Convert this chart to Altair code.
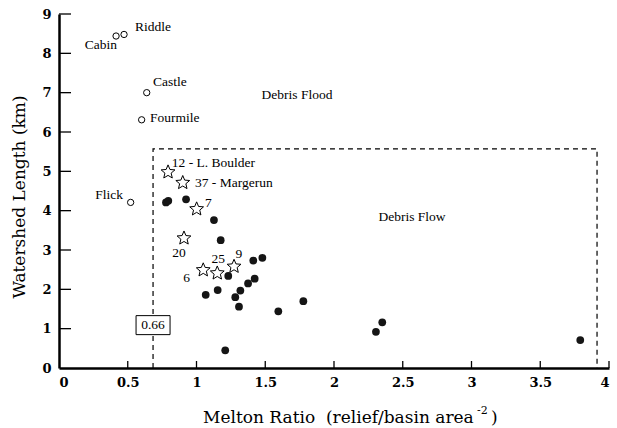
import altair as alt
import pandas as pd

FONT = "Liberation Serif, Times New Roman, DejaVu Serif, serif"
BIG_FONT = "DejaVu Serif, serif"

# Debris-flood basins (open circles)
flood_names = ["Cabin", "Riddle", "Castle", "Fourmile", "Flick"]
flood_x = [0.415, 0.473, 0.638, 0.601, 0.521]
flood_y = [8.44, 8.48, 7.00, 6.31, 4.21]
# label anchors (data coords)
flood_lab_x = [0.422, 0.553, 0.684, 0.662, 0.465]
flood_lab_y = [8.21, 8.67, 7.27, 6.36, 4.40]
flood_lab_side = ["right", "left", "left", "left", "right"]

# Debris-flow basins (filled circles)
flow_x = [0.778, 0.795, 0.924, 1.127, 1.176, 1.413, 1.479, 1.231, 1.423, 1.375,
          1.319, 1.282, 1.067, 1.154, 1.309, 1.595, 1.777, 1.209, 2.351, 2.305, 3.791]
flow_y = [4.21, 4.25, 4.29, 3.76, 3.25, 2.73, 2.80, 2.34, 2.27, 2.15,
          1.97, 1.80, 1.86, 1.98, 1.56, 1.44, 1.70, 0.45, 1.16, 0.92, 0.71]

# Study basins (stars)
star_names = ["12 - L. Boulder", "37 - Margerun", "7", "20", "6", "25", "9"]
star_x = [0.793, 0.900, 1.001, 0.909, 1.049, 1.151, 1.273]
star_y = [4.98, 4.71, 4.04, 3.30, 2.49, 2.41, 2.58]
star_lab_x = [0.82, 0.989, 1.062, 0.873, 0.929, 1.159, 1.309]
star_lab_y = [5.20, 4.70, 4.20, 2.93, 2.30, 2.77, 2.89]
star_lab_side = ["left", "left", "left", "center", "center", "center", "center"]

# Threshold box
box_x = [0.684, 0.684, 3.913, 3.913]
box_y = [0.0, 5.57, 5.57, 0.0]
threshold_value = 0.684
threshold_label = "0.66"
threshold_label_y = 1.09

region_labels = ["Debris Flood", "Debris Flow"]
region_x = [1.731, 2.567]
region_y = [6.94, 3.84]

x_ticks = [0.5, 1, 1.5, 2, 2.5, 3, 3.5, 4]
y_ticks = [1, 2, 3, 4, 5, 6, 7, 8, 9]
x_labels = [0, 0.5, 1, 1.5, 2, 2.5, 3, 3.5, 4]
y_labels = [0, 1, 2, 3, 4, 5, 6, 7, 8, 9]

W, H = 550, 354

STAR = ("M0,-1L0.2645,-0.3641L0.9511,-0.309L0.428,0.1391L0.5878,0.809L0,0.45"
        "L-0.5878,0.809L-0.428,0.1391L-0.9511,-0.309L-0.2645,-0.3641Z")

xs = alt.Scale(domain=[0, 4], nice=False, zero=False)
ys = alt.Scale(domain=[0, 9], nice=False, zero=False)
xaxis = alt.Axis(values=x_labels, format=".1~f", title=None, orient="bottom")
yaxis = alt.Axis(values=y_labels, format="d", title=None, orient="left")
X = lambda f: alt.X(f, type="quantitative", scale=xs, axis=xaxis)
Y = lambda f: alt.Y(f, type="quantitative", scale=ys, axis=yaxis)

flood_df = pd.DataFrame({"x": flood_x, "y": flood_y, "name": flood_names,
                         "lx": flood_lab_x, "ly": flood_lab_y, "side": flood_lab_side})
flow_df = pd.DataFrame({"x": flow_x, "y": flow_y})
star_df = pd.DataFrame({"x": star_x, "y": star_y, "name": star_names,
                        "lx": star_lab_x, "ly": star_lab_y, "side": star_lab_side})
box_df = pd.DataFrame({"x": box_x, "y": box_y, "o": list(range(len(box_x)))})

dashed = alt.Chart(box_df).mark_line(color="black", strokeWidth=1.2, strokeDash=[5, 4]).encode(
    x=X("x"), y=Y("y"), order="o:Q")

open_pts = alt.Chart(flood_df).mark_point(shape="circle", filled=True, fill="white",
                                          stroke="black", strokeWidth=1, size=40, opacity=1).encode(
    x=X("x"), y=Y("y"))

filled_pts = alt.Chart(flow_df).mark_circle(color="#151515", size=60, opacity=1).encode(
    x=X("x"), y=Y("y"))

stars = alt.Chart(star_df).mark_point(shape=STAR, filled=True, fill="white", stroke="black",
                                      strokeWidth=1, size=210, opacity=1).encode(
    x=X("x"), y=Y("y"))

def labels(df, side):
    return alt.Chart(df).transform_filter(alt.datum.side == side).mark_text(
        font=FONT, fontSize=13.5, color="black", align=side, baseline="middle").encode(
        x=X("lx"), y=Y("ly"), text="name:N")

region = alt.Chart(pd.DataFrame({"t": region_labels, "x": region_x, "y": region_y})).mark_text(
    font=FONT, fontSize=13.5, color="black", baseline="middle").encode(
    x=X("x"), y=Y("y"), text="t:N")

thr_df = pd.DataFrame({"x": [threshold_value], "y": [threshold_label_y], "t": [threshold_label]})
thr_box = alt.Chart(thr_df).mark_rect(fill="white", stroke="black", strokeWidth=1,
                                      xOffset=-17, x2Offset=17, yOffset=-9.5, y2Offset=9.5).encode(
    x=X("x"), x2="x", y=Y("y"), y2="y")
thr_text = alt.Chart(thr_df).mark_text(font=FONT, fontSize=13.5, color="black",
                                       baseline="middle").encode(x=X("x"), y=Y("y"), text="t:N")

xt = alt.Chart(pd.DataFrame({"v": x_ticks})).mark_rule(color="black", strokeWidth=1.3).encode(
    x=X("v"), y=alt.value(H), y2=alt.value(H - 7))
yt = alt.Chart(pd.DataFrame({"v": y_ticks})).mark_rule(color="black", strokeWidth=1.3).encode(
    y=Y("v"), x=alt.value(0), x2=alt.value(12))

one = pd.DataFrame({"a": [0]})
ytitle = alt.Chart(one).mark_text(font=BIG_FONT, fontSize=17, color="black", angle=270,
                                  baseline="middle", align="center").encode(
    x=alt.value(-39), y=alt.value(183), text=alt.value("Watershed Length (km)"))
xtitle = alt.Chart(one).mark_text(font=BIG_FONT, fontSize=17, color="black", align="left",
                                  baseline="alphabetic").encode(
    x=alt.value(144), y=alt.value(408.5),
    text=alt.value("Melton Ratio\u00a0\u00a0(relief/basin area"))
xsup = alt.Chart(one).mark_text(font=BIG_FONT, fontSize=11, color="black", align="left",
                                baseline="alphabetic").encode(
    x=alt.value(418), y=alt.value(400), text=alt.value("-2"))
xclose = alt.Chart(one).mark_text(font=BIG_FONT, fontSize=17, color="black", align="left",
                                  baseline="alphabetic").encode(
    x=alt.value(432), y=alt.value(408.5), text=alt.value(")"))

chart = alt.layer(dashed, open_pts, filled_pts, stars,
                  labels(flood_df, "left"), labels(flood_df, "right"),
                  labels(star_df, "left"), labels(star_df, "center"), region,
                  thr_box, thr_text, xt, yt, ytitle, xtitle, xsup, xclose).properties(
    width=W, height=H,
    autosize=alt.AutoSizeParams(type="none"),
    padding={"left": 59, "top": 14, "right": 8, "bottom": 60},
    background="white",
).configure_view(stroke=None).configure_axis(
    grid=False, ticks=False, domainColor="black", domainWidth=2.5,
    labelFont=BIG_FONT, labelFontWeight="bold", labelFontSize=13, labelColor="black",
    labelPadding=8,
)

chart.save("out.html", embed_options={"renderer": "svg", "actions": False})
